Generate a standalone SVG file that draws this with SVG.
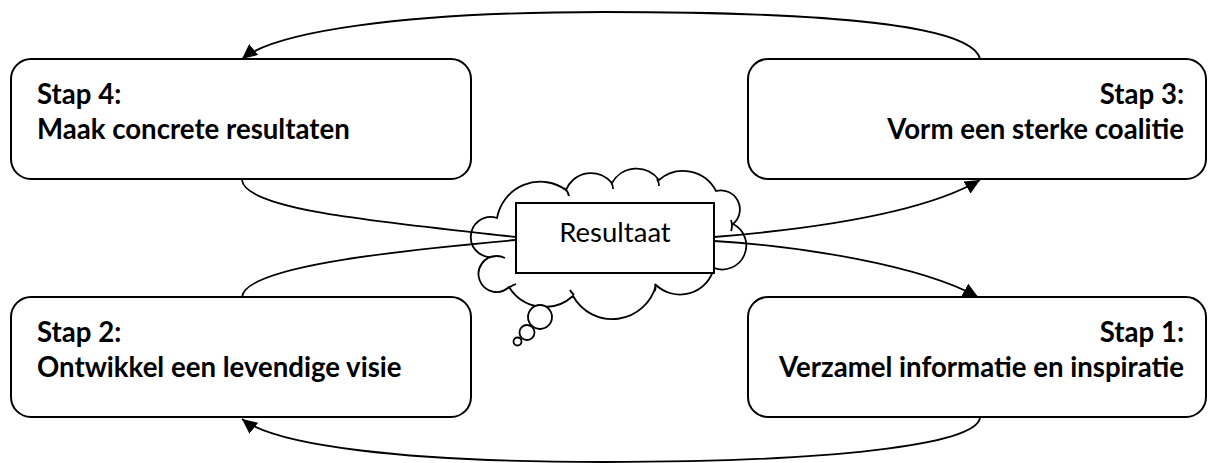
<svg xmlns="http://www.w3.org/2000/svg" width="1208" height="463" viewBox="0 0 1208 463">
<style>
.box{fill:#fff;stroke:#000;stroke-width:2}
.t{font-family:Lato,"Liberation Sans",sans-serif;font-size:27.6px;font-weight:bold;fill:#000}
.r{font-family:Lato,"Liberation Sans",sans-serif;font-size:27.5px;fill:#000}
.c{fill:none;stroke:#000;stroke-width:1.8}
.cl{fill:#fff;stroke:#000;stroke-width:1.8}
.h{fill:none;stroke:#000;stroke-width:1.8}
</style>
<defs>
<marker id="ah" markerUnits="userSpaceOnUse" markerWidth="16" markerHeight="14" refX="15" refY="7" orient="auto">
<path d="M0,0 L15,7 L0,14 z" fill="#000"/>
</marker>
</defs>
<rect width="1208" height="463" fill="#fff"/>

<g id="cloud">
<path class="cl" d="M497,218 A44,44 0 0 1 566,190 A27,27 0 0 1 612,183 A28,28 0 0 1 659,180 A37,37 0 0 1 716,191 A19,19 0 0 1 733,224 A24,24 0 0 1 714,268 A35,35 0 0 1 656,285 A45,45 0 0 1 573,296 A42,42 0 0 1 509,287 A18,18 0 1 1 497,256 A20,20 0 1 1 497,218 Z"/>
<path class="h" d="M564,188 Q568,191 569,196 M611,182 Q613,185 613,189 M657,179 Q659,182 659,186 M731,220 Q733,226 731,231 M712,268 Q706,270 700,269 M655,284 Q656,288 655,291 M574,295 Q571,292 570,290 M510,287 Q513,285 516,284 M497,256 Q501,256 505,258"/>
<circle class="cl" cx="540" cy="317" r="12"/>
<circle class="cl" cx="527" cy="332.5" r="7.5"/>
<circle class="cl" cx="517.5" cy="341.5" r="4"/>
</g>

<g id="connectors">
<path class="c" d="M980,59 C972,25 830,12 604,12 C400,12 275,32 242,59" marker-end="url(#ah)"/>
<path class="c" d="M242,180 C245,210 380,222 516,237"/>
<path class="c" d="M242,297 C245,268 380,252 516,240"/>
<path class="c" d="M714,237 C800,230 920,215 980,180" marker-end="url(#ah)"/>
<path class="c" d="M714,241 C800,246 920,265 978,297" marker-end="url(#ah)"/>
<path class="c" d="M980,418 C975,445 830,462 604,462 C400,462 275,445 242,419" marker-end="url(#ah)"/>
</g>

<g id="resultaat">
<rect x="516" y="203" width="198" height="70" fill="#fff" stroke="#000" stroke-width="2"/>
<text class="r" x="615" y="242" text-anchor="middle">Resultaat</text>
</g>

<g id="stap4">
<rect class="box" x="11" y="59" width="460" height="120" rx="20"/>
<text class="t" x="37" y="104">Stap 4:</text>
<text class="t" x="37" y="139">Maak concrete resultaten</text>
</g>
<g id="stap3">
<rect class="box" x="748" y="59" width="458" height="120" rx="20"/>
<text class="t" x="1184" y="104" text-anchor="end">Stap 3:</text>
<text class="t" x="1184" y="139" text-anchor="end">Vorm een sterke coalitie</text>
</g>
<g id="stap2">
<rect class="box" x="11" y="297" width="460" height="120" rx="20"/>
<text class="t" x="37" y="342">Stap 2:</text>
<text class="t" x="37" y="377">Ontwikkel een levendige visie</text>
</g>
<g id="stap1">
<rect class="box" x="748" y="297" width="458" height="120" rx="20"/>
<text class="t" x="1184" y="342" text-anchor="end">Stap 1:</text>
<text class="t" x="1184" y="377" text-anchor="end">Verzamel informatie en inspiratie</text>
</g>
</svg>
